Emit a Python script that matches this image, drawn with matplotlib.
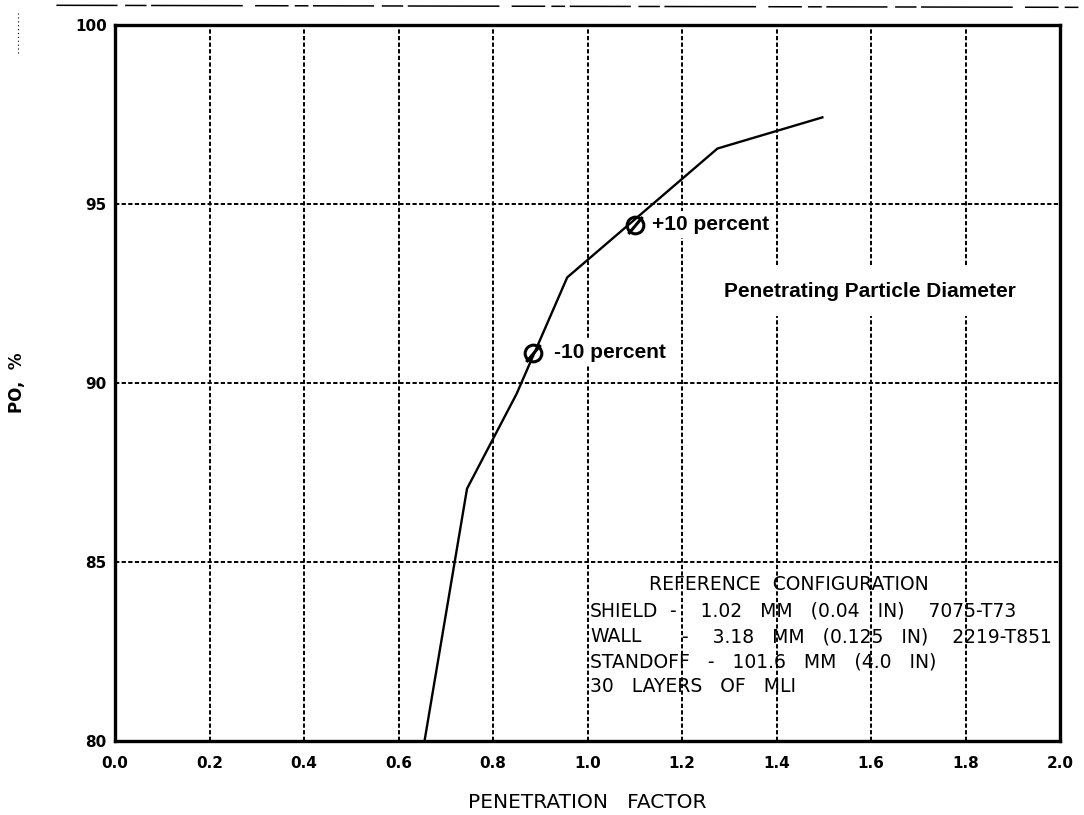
import matplotlib
matplotlib.use('Agg')
import matplotlib.pyplot as plt
from matplotlib.lines import Line2D

# penetration factor vs probability of no penetration (PO)
pen_factor = [0.655, 0.745, 0.85, 0.957, 1.275, 1.497]
po_pct = [80.0, 87.05, 89.7, 92.95, 96.55, 97.42]

# +/-10 percent particle diameter points
diam_x = [0.885, 1.100]
diam_y = [90.85, 94.42]
diam_labels = ['-10 percent', '+10 percent']

x_ticks = [0.0, 0.2, 0.4, 0.6, 0.8, 1.0, 1.2, 1.4, 1.6, 1.8, 2.0]
y_ticks = [80, 85, 90, 95, 100]

config_title = 'REFERENCE  CONFIGURATION'
config_rows = [('SHIELD', '-    1.02   MM   (0.04   IN)    7075-T73'),
               ('WALL', '-    3.18   MM   (0.125   IN)    2219-T851'),
               ('STANDOFF   -   101.6   MM   (4.0   IN)', None),
               ('30   LAYERS   OF   MLI', None)]

fig = plt.figure(figsize=(10.84, 8.15), dpi=100)
ax = fig.add_axes([0.1061, 0.0908, 0.8718, 0.8785])

ax.set_xlim(0, 2)
ax.set_ylim(80, 100)
ax.set_xticks(x_ticks)
ax.set_yticks(y_ticks)
ax.set_xticklabels(['%.1f' % v for v in x_ticks])
ax.set_yticklabels([str(v) for v in y_ticks])
ax.tick_params(length=0, labelsize=11)
ax.tick_params(axis='x', pad=11)
ax.tick_params(axis='y', pad=6)
for lab in ax.get_xticklabels() + ax.get_yticklabels():
    lab.set_fontweight('bold')

ax.grid(True, color='black', linestyle=(0, (2.2, 1.2)), linewidth=1.4)
ax.set_axisbelow(True)
for sp in ax.spines.values():
    sp.set_linewidth(2.4)
    sp.set_color('black')

ax.plot(pen_factor, po_pct, color='black', linewidth=1.7, zorder=5)

# open circle with a slash for the diameter points
ax.plot(diam_x, diam_y, linestyle='none', marker='o', markersize=12,
        markerfacecolor='none', markeredgecolor='black', markeredgewidth=2.2, zorder=6)
ax.plot(diam_x, diam_y, linestyle='none', marker=(2, 0, -40), markersize=16,
        markeredgecolor='black', markeredgewidth=2.2, zorder=6)

label_offsets = [0.044, 0.037]
for x, y, txt, dx in zip(diam_x, diam_y, diam_labels, label_offsets):
    ax.text(x + dx, y, txt, fontsize=15, fontweight='bold', family='Liberation Sans',
            ha='left', va='center', zorder=4,
            bbox=dict(facecolor='white', edgecolor='none', pad=3))

ax.text(1.289, 92.55, 'Penetrating Particle Diameter', fontsize=15, fontweight='bold',
        family='Liberation Sans', ha='left', va='center', zorder=4,
        bbox=dict(facecolor='white', edgecolor='none', pad=11))

# reference configuration block
ax.text(1.427, 84.36, config_title, fontsize=13.5, ha='center', va='center')
row_y = [83.63, 82.91, 82.21, 81.51]
dash_x = [1.175, 1.2]
for i, (left, right) in enumerate(config_rows):
    ax.text(1.005, row_y[i], left, fontsize=13.5, ha='left', va='center')
    if right is not None:
        ax.text(dash_x[i], row_y[i], right, fontsize=13.5, ha='left', va='center')

ax.set_xlabel('PENETRATION   FACTOR', fontsize=14.5)
ax.xaxis.set_label_coords(0.5, -0.072)
ax.set_ylabel('PO,  %', fontsize=12, fontweight='bold')
ax.yaxis.set_label_coords(-0.094, 0.5)

# page edge marks along the top and left
fig.add_artist(Line2D([0.052, 0.995], [0.9935, 0.991], color='black', linewidth=1.1,
                      linestyle=(0, (40, 5, 14, 3, 60, 8, 22, 4, 9, 3)), transform=fig.transFigure))
fig.add_artist(Line2D([0.017, 0.017], [0.984, 0.932], color='black', linewidth=0.8,
                      linestyle=(0, (1, 2.5)), transform=fig.transFigure))

fig.savefig('out.png', dpi=100)
